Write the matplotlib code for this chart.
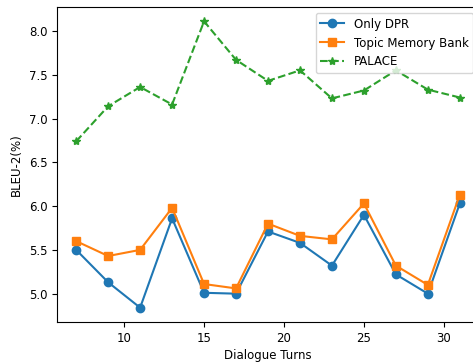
import matplotlib
matplotlib.use("Agg")
import matplotlib.pyplot as plt

turns = [7, 9, 11, 13, 15, 17, 19, 21, 23, 25, 27, 29, 31]
only_dpr = [5.50, 5.13, 4.84, 5.86, 5.01, 5.00, 5.71, 5.58, 5.32, 5.90, 5.22, 5.00, 6.03]
topic_mem = [5.60, 5.43, 5.50, 5.98, 5.11, 5.06, 5.80, 5.66, 5.62, 6.03, 5.32, 5.10, 6.13]
palace = [6.74, 7.14, 7.36, 7.16, 8.11, 7.67, 7.43, 7.55, 7.23, 7.32, 7.55, 7.33, 7.24]

plt.rcParams['font.size'] = 8.5

fig = plt.figure(figsize=(4.73, 3.63), dpi=100)
ax = fig.add_axes([57/473, 41/363, 422/473, 315/363])
ax.plot(turns, only_dpr, marker='o', markersize=6, label='Only DPR')
ax.plot(turns, topic_mem, marker='s', markersize=6, label='Topic Memory Bank')
ax.plot(turns, palace, marker='*', markersize=6, linestyle='--', label='PALACE')
ax.set_xlabel("Dialogue Turns", labelpad=3)
ax.set_ylabel("BLEU-2(%)")
ax.legend(loc='upper right')
fig.savefig("out.png", dpi=100)
